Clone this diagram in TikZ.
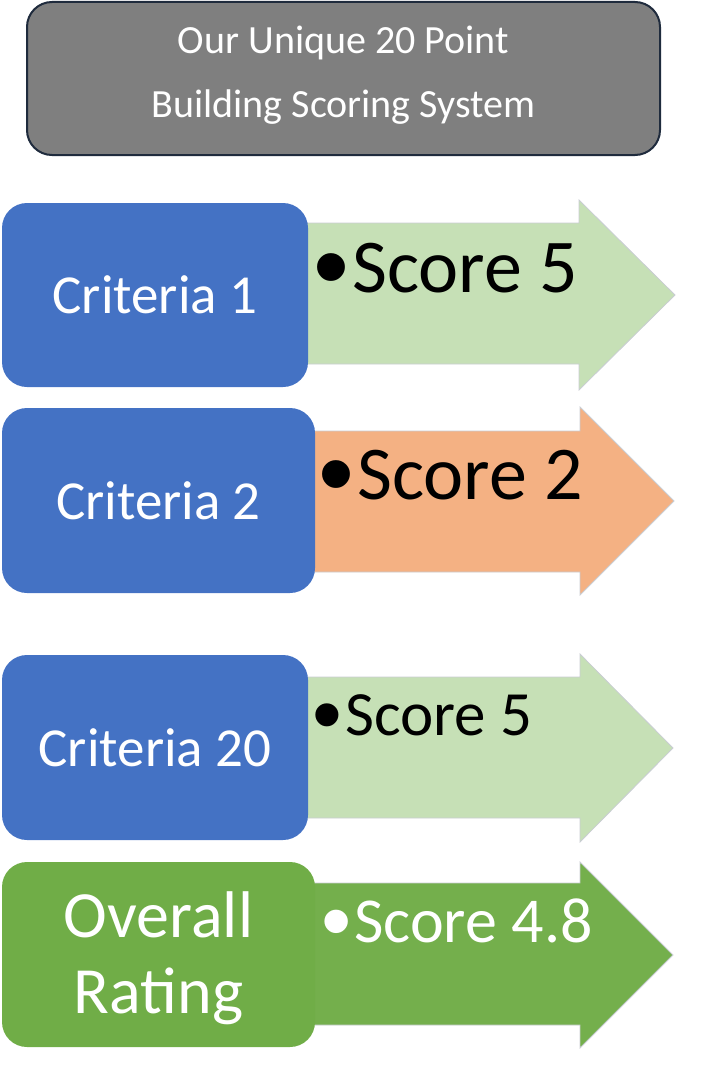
\documentclass[tikz,border=0pt]{standalone}
\usepackage{fontspec}
\setmainfont{Carlito}
\newfontfamily\bulletfont{Liberation Sans}
\newcommand{\bigbullet}{\raisebox{-0.13em}{\scalebox{1.35}{\bulletfont •}}\hspace{0.04em}}
\definecolor{titlegray}{HTML}{7F7F7F}
\definecolor{titleline}{HTML}{1F2B3D}
\definecolor{critblue}{HTML}{4472C4}
\definecolor{lightgreen}{HTML}{C6E0B6}
\definecolor{peach}{HTML}{F4B183}
\definecolor{darkgreen}{HTML}{70AD47}
\definecolor{arrowgreen}{HTML}{74AF4C}
\definecolor{arrowedge}{HTML}{C9CDD3}
\begin{document}
\begin{tikzpicture}[x=1pt,y=-1pt,
  box/.style={rounded corners=25pt, inner sep=0pt, text=white, align=center},
  critbox/.style={box, fill=critblue, font=\fontsize{55}{66}\selectfont},
  arrowshape/.style={draw=arrowedge, line width=0.8pt, line join=miter},
  scoretext/.style={anchor=base west, inner sep=0pt},
  plaintext/.style={inner sep=0pt, text=white},
]
\useasboundingbox (0,0) rectangle (703,1070);

% arrows (drawn first, boxes overlap their left ends)
\draw[arrowshape, fill=lightgreen] (296,223) -- (579,223) -- (579,200) -- (675,295) -- (579,390) -- (579,364) -- (296,364) -- cycle;
\draw[arrowshape, fill=peach] (303,431) -- (580,431) -- (580,407) -- (674,501) -- (580,595) -- (580,572) -- (303,572) -- cycle;
\draw[arrowshape, fill=lightgreen] (296,677) -- (580,677) -- (580,654) -- (673,748) -- (580,842) -- (580,818) -- (296,818) -- cycle;
\draw[arrowshape, fill=arrowgreen] (303,883) -- (580,883) -- (580,862) -- (673,955) -- (580,1048) -- (580,1025) -- (303,1025) -- cycle;

% title
\node[box, fill=titlegray, draw=titleline, line width=2pt, minimum width=633pt, minimum height=153pt] (title) at (343.5,78.5) {};
\node[plaintext, font=\fontsize{40}{64}\selectfont] (titletext) at (343.5,73.2)
  {\begin{tabular}{@{}c@{}}Our Unique 20 Point\\Building Scoring System\end{tabular}};

% criteria boxes
\node[critbox, minimum width=306pt, minimum height=184pt] (c1) at (155,295) {Criteria 1};
\node[critbox, minimum width=313pt, minimum height=185pt] (c2) at (158.5,500.5) {Criteria 2};
\node[critbox, minimum width=306pt, minimum height=185pt] (c20) at (155,747.5) {Criteria 20};
\node[box, fill=darkgreen, minimum width=313pt, minimum height=185pt] (overall) at (158.5,954.5) {};
\node[plaintext, font=\fontsize{66}{76}\selectfont] (overalltext) at (158.5,959.8)
  {\begin{tabular}{@{}c@{}}Overall\\Rating\end{tabular}};

% scores
\node[scoretext, font=\fontsize{76}{90}\selectfont] (s1) at (352,292) {\llap{\bigbullet}Score 5};
\node[scoretext, font=\fontsize{76}{90}\selectfont] (s2) at (357,499) {\llap{\bigbullet}Score 2};
\node[scoretext, font=\fontsize{63}{75}\selectfont] (s20) at (345,735) {\llap{\bigbullet}Score 5};
\node[scoretext, text=white, font=\fontsize{64}{76}\selectfont] (sall) at (354,942) {\llap{\bigbullet}Score 4.8};
\end{tikzpicture}
\end{document}
